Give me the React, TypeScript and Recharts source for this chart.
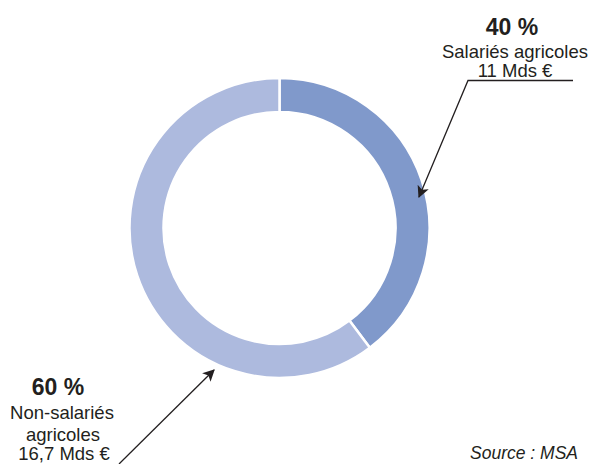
import { Cell, Pie, PieChart } from 'recharts';

const categories = ['Salariés agricoles', 'Non-salariés agricoles'];
const amounts = [11, 16.7];
const shares = ['40 %', '60 %'];
const amountLabels = ['11 Mds €', '16,7 Mds €'];
const colors = ['#8099cb', '#adbade'];

const data = categories.map((name, i) => ({ name, value: amounts[i] }));

const font = 'Liberation Sans, Arial, Helvetica, sans-serif';
const ink = '#231f20';

// labels + arrows drawn in an svg laid over the chart so they sit above the ring
function Annotations() {
  return (
    <svg
      width={591}
      height={464}
      style={{ position: 'absolute', left: 0, top: 0, pointerEvents: 'none' }}
    >
      <defs>
        <marker
          id="head"
          viewBox="0 0 10 10"
          refX="9"
          refY="5"
          markerWidth="12"
          markerHeight="12"
          markerUnits="userSpaceOnUse"
          orient="auto"
        >
          <path d="M0,0 L10,5 L0,10 L2.5,5 z" fill={ink} />
        </marker>
      </defs>
      <g fontFamily={font} fill={ink}>
        {/* top right label */}
        <text x={512} y={35} textAnchor="middle" fontSize={23} fontWeight="bold">
          {shares[0]}
        </text>
        <text x={515} y={58} textAnchor="middle" fontSize={18.5}>
          {categories[0]}
        </text>
        <text x={515} y={77} textAnchor="middle" fontSize={18.5}>
          {amountLabels[0]}
        </text>
        <polyline
          points="573,80.5 468,80.5 419,197"
          fill="none"
          stroke={ink}
          strokeWidth={1.3}
          markerEnd="url(#head)"
        />

        {/* bottom left label */}
        <text x={58} y={395} textAnchor="middle" fontSize={23} fontWeight="bold">
          {shares[1]}
        </text>
        <text x={62} y={419} textAnchor="middle" fontSize={18.5}>
          Non-salariés
        </text>
        <text x={63} y={441} textAnchor="middle" fontSize={18.5}>
          agricoles
        </text>
        <text x={64} y={460} textAnchor="middle" fontSize={18.5}>
          {amountLabels[1]}
        </text>
        <line
          x1={119}
          y1={464}
          x2={214}
          y2={370}
          stroke={ink}
          strokeWidth={1.3}
          markerEnd="url(#head)"
        />

        <text x={524} y={459} textAnchor="middle" fontSize={17.5} fontStyle="italic">
          Source : MSA
        </text>
      </g>
    </svg>
  );
}

export default function App() {
  return (
    <div style={{ position: 'absolute', left: 0, top: 0, width: 591, height: 464, background: '#fff' }}>
      <PieChart width={591} height={464} margin={{ top: 0, right: 0, bottom: 0, left: 0 }}>
        <Pie
          data={data}
          dataKey="value"
          cx={279.5}
          cy={228}
          innerRadius={116}
          outerRadius={150}
          startAngle={90}
          endAngle={-270}
          stroke="#ffffff"
          strokeWidth={2.5}
          isAnimationActive={false}
        >
          {data.map((d, i) => (
            <Cell key={d.name} fill={colors[i]} />
          ))}
        </Pie>
      </PieChart>
      <Annotations />
    </div>
  );
}
